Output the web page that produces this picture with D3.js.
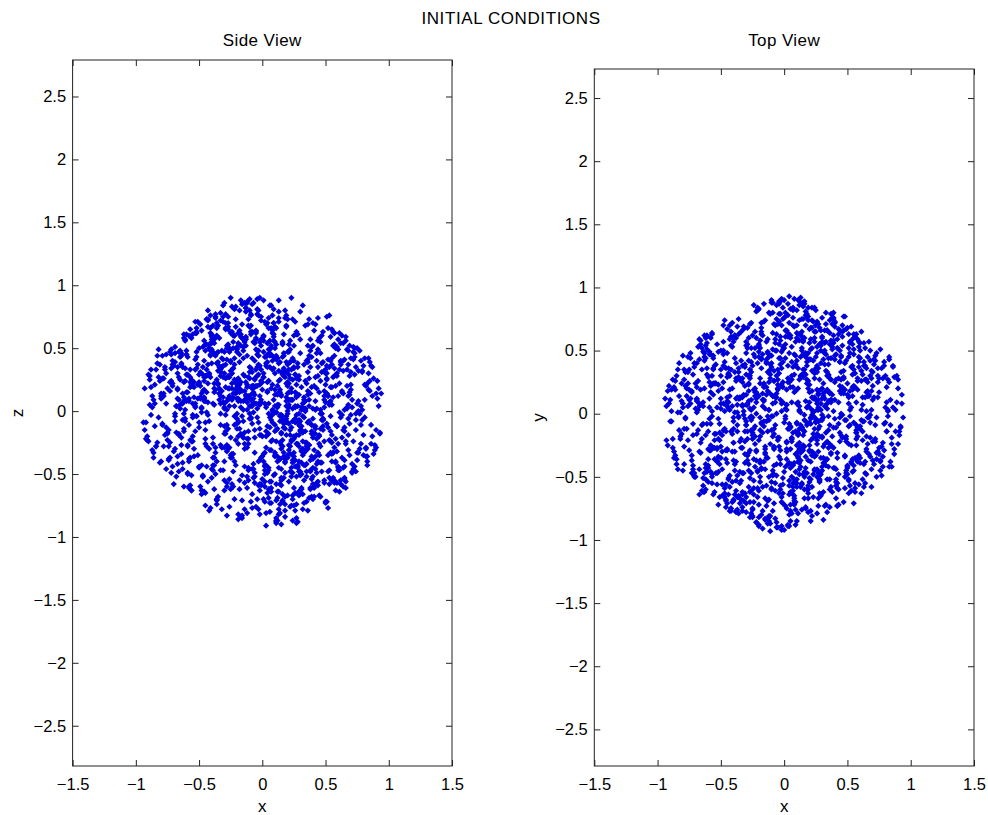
<!DOCTYPE html>
<html><head><meta charset="utf-8">
<script src="https://cdn.jsdelivr.net/npm/d3@7"></script>
<style>
body{margin:0;background:#fff}
svg{display:block}
text{font-family:"Liberation Sans",Arial,Helvetica,sans-serif;fill:#000}
</style>
</head><body>
<svg id="chart" width="988" height="815"></svg>
<script>
// particle positions, in hundredths of a unit (read/estimated from the picture)
const particleX = [
-12,27,3,-31,18,-6,9,-22,33,-17,0,14,-28,22,-3,6,-35,29,-9,11,
25,-19,7,-26,15,-1,31,-14,4,-33,20,-8,12,-24,35,-5,17,-30,2,26,
-16,8,-27,21,-4,34,-11,13,-20,1,28,-34,10,-7,23,-18,5,32,-25,16,
19,-2,30,-13,24,-29,7,-21,15,-10,34,-15,3,27,-32,9,-23,12,-1,21,
-8,31,-18,4,-26,17,-34,25,-6,11,-19,2,29,-12,20,-28,14,-3,33,-22,
6,-24,16,-9,35,-16,1,23,-31,10,-5,26,-20,18,-11,30,-27,8,-14,3,
-29,13,-2,28,-21,5,-33,19,-7,32,-15,24,-26,0,15,-10,22,-35,11,-4,
17,-30,22,-5,9,-23,29,-17,2,-12,26,-28,13,-1,34,-19,7,-8,20,-25,
-3,21,-13,31,-27,12,-6,16,-32,24,-9,4,-22,30,-16,10,-2,27,-29,14,
33,-11,5,-20,18,-35,23,-4,11,-26,1,19,-14,8,-30,25,-7,15,-18,29,
-21,10,-30,14,-1,26,-17,32,-9,6,-25,20,-4,34,-13,3,-28,18,-6,23,
7,-27,19,-15,30,-8,12,-34,25,-2,16,-22,28,-11,4,-31,21,-18,13,-5,
-14,24,-6,35,-24,9,-19,2,27,-29,15,-10,31,-3,19,-23,6,-33,26,0,
12,-4,28,-19,3,-32,17,-13,22,-7,33,-20,8,-27,14,-1,30,-15,5,-25,
-26,15,-10,23,-33,7,-2,29,-18,13,-30,1,20,-12,27,-6,11,-21,35,-8,
4,-18,25,-3,14,-22,31,-9,6,-28,21,-14,2,29,-34,16,-5,24,-11,9,
-9,32,-23,11,-5,18,-29,27,-12,3,23,-32,15,-20,8,-26,34,-2,17,-16,
28,-7,13,-25,21,-1,10,-31,18,-17,5,30,-24,12,-8,22,-13,1,-33,19,
-5,20,-32,16,-12,33,-20,5,-27,26,-3,11,-18,24,-30,7,19,-10,28,-15,
15,-28,2,-10,27,-14,22,-6,34,-23,9,-35,17,-4,25,-17,1,31,-20,10,
-18,6,-22,30,-8,16,-26,12,-1,21,-31,27,-7,14,-19,33,-12,4,-24,8,
23,-13,34,-4,11,-30,4,20,-15,29,-22,7,-29,19,-2,13,-25,26,-9,32,
-1,17,-16,8,-28,25,-11,35,-21,2,14,-7,24,-33,10,-20,28,-3,18,-12,
10,-33,21,-23,5,-9,29,-24,13,-16,31,-2,9,-19,26,-27,3,16,-29,22,
-42,51,-38,47,-53,40,-45,55,-49,37,44,-50,39,-36,52,-47,43,-41,48,-54,
46,-39,53,-44,38,-51,41,-37,50,-46,36,54,-43,49,-40,45,-52,42,-48,37,
-50,43,-36,55,-47,39,-53,46,-41,51,-38,44,-55,40,-45,48,-39,52,-43,36,
41,-48,50,-40,45,-54,37,-44,53,-37,47,-42,38,-51,43,-36,55,-46,40,-49,
-37,54,-46,42,-52,38,-41,49,-55,44,-48,36,-44,53,-39,47,-50,39,-42,51,
52,-43,40,-49,36,-45,55,-38,43,-53,39,-47,51,-41,46,-52,38,-37,54,-44,
-45,38,-51,53,-39,47,-43,41,-48,36,-54,50,-40,45,-36,42,-47,55,-38,48,
39,-52,44,-36,49,-42,52,-50,37,-45,42,-39,55,-48,40,-53,46,-44,37,-40,
-53,45,-40,38,-44,51,-37,54,-42,48,-50,41,-46,37,-55,43,-41,50,-36,47,
44,-36,48,-55,41,-38,46,-52,39,-43,53,-46,36,-49,42,-40,49,-45,51,-39,
-58,63,-66,57,-61,69,-64,60,-56,67,-70,59,-62,65,-57,68,-63,56,-68,61,
64,-59,70,-65,58,-60,66,-57,62,-69,56,-67,61,-58,69,-62,59,-64,67,-56,
-61,57,-69,62,-56,66,-60,64,-67,58,-63,70,-59,68,-65,56,-62,63,-57,65,
60,-66,56,-58,68,-63,59,-70,65,-61,57,-64,69,-56,62,-68,58,-60,64,-67,
-64,68,-57,61,-69,59,-62,57,-66,63,-58,66,-61,60,-67,64,-56,69,-60,58,
67,-62,58,-68,63,-57,70,-65,56,-59,66,-61,60,-66,57,-63,65,-58,62,-69,
-73,78,-80,72,-76,81,-71,75,-79,74,-82,77,-74,71,-77,80,-72,76,-78,73,
79,-75,71,-81,74,-72,82,-78,76,-73,72,-80,78,-76,73,-79,81,-71,75,-77,
-76,72,-78,80,-73,74,-81,77,-71,79,-75,73,-80,71,-72,82,-79,75,-74,78,
-85,88,-91,84,-87,92,-83,86,-94,90,-89,83,-86,93,-84,87,-92,85,-88,89,
91,-84,85,-90,94,-86,83,-93,87,-85,90,-83,84,-88,86,-91,92,-87,83,-89,
5,-14,26,-30,11,19,-7,-23,32,0,-18,13,24,-35,8,-2,30,-11,-26,17,
-9,22,2,-16,34,-28,15,6,-20,27,-4,-33,10,18,-13,29,-6,3,-25,12,
31,-1,-22,14,-8,25,-31,20,7,-15,35,-10,-27,4,21,-19,9,-34,16,-3,
-24,18,10,-5,28,-12,1,-29,23,13,-21,6,33,-17,-2,26,-30,11,-8,20,
14,-26,32,8,-11,-19,24,-3,16,-33,2,27,-14,21,-7,-22,12,35,-16,5,
-31,7,-12,23,17,-4,-25,30,-9,19,11,-28,-1,15,34,-20,3,-13,28,-6,
9,33,-18,-2,22,-27,14,5,-34,25,-10,18,29,-23,6,12,-15,-32,1,24,
-19,4,27,-8,-30,16,-5,21,11,-13,31,-24,8,2,-29,19,26,-3,-11,34,
22,-16,0,35,-21,10,28,-12,-26,6,-2,23,-32,15,9,-18,-7,30,17,-28,
-4,29,-33,12,3,-9,20,25,-17,-30,14,1,-23,32,-14,7,21,-26,10,-1,
27,-21,15,-6,33,4,-15,-35,19,8,-27,29,13,-8,24,-31,0,16,-19,11,
-13,10,-28,26,-3,21,7,-18,34,17,-6,-25,5,30,-20,-11,25,2,32,-24,
18,-33,6,20,-24,-7,31,13,-10,-22,24,9,-30,-3,16,28,-17,-9,4,35,
-35,12,24,-14,8,30,-20,1,26,-29,-5,15,20,-12,31,-8,5,22,-33,13,
3,-23,19,29,-17,11,-1,-31,14,23,-12,-20,33,7,-26,17,-4,-15,27,-9,
26,16,-10,-25,4,-34,22,9,-6,32,-16,12,-22,27,1,-27,18,6,-13,-21,
47,-38,52,-45,40,-53,36,49,-42,55,-37,44,-50,41,-46,38,53,-40,45,-51,
-44,50,-36,39,-55,46,-48,37,54,-41,43,-39,48,-52,36,-47,51,-43,42,40,
38,-53,45,-37,51,-40,55,-46,41,-49,47,36,-44,52,-38,43,-55,49,-41,37,
-51,42,-47,54,-39,36,-43,50,-36,46,-52,39,44,-45,53,-37,40,-48,55,-42,
43,-46,37,-50,48,-36,41,-54,52,-38,39,-43,46,-40,49,-55,38,45,-47,51,
-40,55,-49,44,-42,52,-38,47,-53,40,-45,54,-37,42,-50,48,-36,51,-44,39,
54,-41,46,-52,37,-47,50,-39,44,-54,36,-48,53,-43,40,-46,42,-38,49,-45,
59,-65,62,-57,68,-61,56,-69,64,-58,70,-63,60,-66,57,-59,67,-62,65,-56,
-67,58,-60,66,-56,63,-64,69,-59,61,-68,57,-62,64,-70,60,-57,65,-61,68,
62,-56,69,-63,59,-67,65,-60,57,-64,61,-58,66,-69,63,-62,58,-65,70,-59,
-60,64,-58,57,-66,67,-61,60,-63,56,-57,62,-69,68,-59,65,-64,59,-67,61,
77,-72,81,-79,73,-75,80,-71,74,-82,76,-74,71,-78,82,-73,79,-81,72,-76,
-80,75,-73,72,-77,79,-76,82,-71,78,-74,73,-82,76,-72,81,-75,71,-79,74,
86,-88,84,-92,90,-85,93,-83,87,-90,89,-86,85,-84,91,-89,83,-87,88,-93
];
const particleY = [
45,-12,78,-63,5,30,-88,17,-41,62,-7,-55,24,84,-29,9,-71,50,-2,36,
-33,58,-15,72,-48,21,-3,40,-80,13,67,-26,3,-59,31,-90,48,-9,19,-44,
10,-69,35,-21,87,-52,16,-37,55,-4,-18,27,70,-61,1,43,-28,12,-76,60,
-57,22,-1,49,-34,8,82,-46,29,-13,66,-83,38,-6,15,57,-24,74,-51,4,
26,-39,63,-8,11,-74,42,-19,86,-30,52,7,-65,33,-54,18,-11,61,-36,0,
-20,47,-60,14,-27,73,-42,2,37,-85,20,-16,53,-47,79,-5,28,-67,41,-12,
68,-31,8,-53,40,-10,25,-78,59,6,-44,34,-2,76,-25,46,-58,13,-17,89,
-6,54,-81,23,-14,65,-35,47,-22,80,-50,10,29,-71,4,-39,84,-27,56,-3,
39,-8,18,-62,71,-23,50,-1,-47,32,14,-89,60,-19,24,-55,36,5,-33,75,
-72,28,-43,83,-9,12,-66,44,-15,3,77,-37,21,-52,57,-4,9,-29,68,-48,
15,-58,31,-11,53,-79,6,-24,88,-40,38,-7,-63,19,-2,64,-45,27,-86,42,
-41,4,74,-32,20,-16,58,-68,11,49,-26,81,-54,35,-12,22,-77,44,1,-21,
57,-45,13,-2,-70,38,-18,66,-30,7,85,-59,16,-36,48,-10,30,-64,8,52,
-28,79,-52,24,-40,2,46,-87,18,-9,34,-21,69,-3,-56,41,12,-31,60,-15,
33,-17,90,-48,6,-61,23,-5,72,-42,15,55,-25,47,-73,0,-38,82,-13,26,
-64,36,-7,11,58,-29,-84,51,-19,30,-3,43,-75,8,65,-46,19,-12,39,-55,
8,-73,45,-35,27,76,-14,3,-50,61,-31,-1,35,-82,17,52,-22,70,-43,11,
-49,14,-26,62,-85,25,-8,39,-60,16,83,-18,5,-44,71,-33,48,-2,28,-67,
20,-51,67,-14,3,-37,54,-72,30,-24,44,9,-80,57,-6,21,-63,40,-10,74,
-13,42,-30,88,-47,15,-1,63,-36,52,-70,27,10,-19,36,-58,80,-26,49,-7,
65,-22,9,-45,34,-67,41,-12,75,-4,-32,18,50,-76,28,-15,3,-53,86,-39,
-2,59,-78,32,-16,48,-57,23,4,-64,12,70,-37,6,-89,45,-20,33,-48,17,
51,-34,21,-71,60,-6,31,-42,84,-28,-11,56,-3,38,-52,14,68,-40,24,-81,
-25,7,43,-18,-77,64,-46,19,-9,87,-35,2,46,-13,73,-62,25,-5,55,-30,
35,-52,12,66,-28,-4,48,-71,20,58,-15,30,-43,75,-9,41,-60,6,-33,24,
-19,62,-38,9,53,-66,27,1,-48,36,-74,14,59,-22,-6,45,18,-55,70,-31,
50,-8,29,-45,74,-27,5,61,-16,-63,40,22,-36,11,67,-50,33,-2,-77,17,
-44,25,68,-12,0,39,-58,31,-25,7,-70,54,15,-40,28,63,-7,-29,46,-65,
13,-36,-69,52,23,-18,72,-47,38,-3,57,-24,4,-61,44,16,-35,76,-14,8,
-57,3,43,-30,64,10,-41,26,-72,55,-11,37,-53,20,-1,49,-26,69,-46,32,
6,71,-21,37,-64,28,14,-54,47,-9,24,-42,60,-17,33,-73,2,51,-38,19,
62,-46,18,-2,42,-75,56,8,-32,29,-59,1,35,-13,73,-37,21,-51,11,-23,
-27,16,57,-62,31,-10,-49,21,65,-34,4,47,-68,27,-16,9,53,-43,36,77,
41,-66,-5,24,-52,60,18,-20,2,70,-39,-14,28,-56,52,-3,-45,13,63,-30,
22,-40,55,-9,31,-58,6,44,-27,15,-50,37,60,-18,2,-34,48,-62,26,-5,
-47,12,-22,52,-38,29,-3,63,-14,40,-55,8,34,-29,18,-60,45,-8,57,24,
36,-25,1,-52,46,14,-43,27,59,-11,20,-37,5,50,-61,32,-17,41,-2,-48,
-12,58,-35,17,-1,42,-56,24,-30,62,-20,9,-44,36,-6,53,28,-41,13,-64,
49,-7,30,-63,21,-33,54,-15,7,38,-46,-24,61,-10,43,-55,15,3,-36,26,
-32,44,-18,3,56,-48,11,35,-59,-4,25,51,-39,19,-13,62,-28,47,-21,10,
18,-34,5,42,-21,9,-47,28,-12,36,1,-26,48,-40,14,-7,31,-45,22,-3,
-29,11,39,-16,25,-44,2,33,-38,17,-9,46,-23,6,-50,27,-14,40,-32,20,
45,-20,-4,30,-37,13,24,-49,37,-8,19,-31,8,43,-17,-2,35,-27,12,-42,
30,-14,8,-38,21,-10,40,5,12,-24,-6,25,-33,15,1,-28,18,-19,27,9,
-17,35,-24,11,-3,19,-42,6,29,-36,20,14,-9,-27,37,22,-11,-30,43,2,
62,-35,48,-71,20,84,-55,14,39,-92,-8,30,-44,-22,91,-66,57,-81,-5,70,
-77,52,7,-38,66,23,88,-50,-61,15,-26,-74,42,79,33,54,-90,28,-17,-48,
24,-56,-86,61,-12,45,-39,-29,76,-67,10,37,-51,93,68,-3,-46,-20,35,58,
-64,41,82,-19,55,-85,4,-33,73,-58,-45,27,80,11,-70,38,-9,63,-41,17,
50,-79,66,31,-24,-54,13,89,87,-47,-36,71,-6,59,-83,-30,2,44,22,-62,
-22,37,-68,12,78,55,-81,60,-49,26,-16,-58,9,47,30,-72,-88,-35,-63,75,
18,57,-43,-92,34,-70,65,-11,-27,82,-60,5,40,20,53,-39,-84,69,-73,28,
-50,72,16,-28,-78,46,35,-52,90,-14,49,-36,-65,3,52,77,-21,-57,-87,8,
74,-6,-46,39,-59,64,27,-82,-13,41,91,-19,-69,58,-32,-44,13,61,-75,-40,
-34,19,-62,86,-89,-18,43,70,-91,7,31,66,17,56,-73,-55,-38,-47,8,84,
36,-66,75,-49,71,25,-28,-55,-60,47,-82,3,88,-71,60,-14,90,32,-37,-79,
-83,60,-31,19,79,51,-64,-7,33,81,-40,-75,21,-42,45,-93,65,-23,50,-12,
44,-27,-79,9,-53,70,14,63,-2,-86,84,39,-66,-60,-50,55,-15,80,48,30,
-46,27,65,-57,-72,76,-89,44,3,-20,71,57,-30,-5,43,-48,-85,13,-77,92,
87,-42,20,66,-77,-34,-63,-4,52,-16,25,-88,47,-58,-61,31,73,-26,11,-45,
53,89,-54,-82,-39,-53,68,-76,16,48,-10,6,-37,-67,61,-29,38,-20,-69,82,
34,-61,18,-29,72,-47,55,-20,-75,63,-9,41,12,-57,-36,79,5,-68,27,-15,
-52,24,-79,58,-21,65,8,44,31,-70,-48,-40,77,-4,16,-63,52,19,-31,69,
76,-38,46,-66,13,-23,60,-56,-11,-44,29,-60,36,48,-78,67,-27,-5,-54,11,
-8,59,-59,38,-45,74,30,15,-65,54,-34,80,-22,-71,69,-14,-43,50,22,-77,
63,-74,9,-26,40,-3,-67,-47,57,28,75,-58,20,-37,-18,-62,51,33,-12,45,
-69,47,-17,66,61,3,-53,28,-56,72,-28,55,-76,-35,35,-59,12,-24,-64,56,
19,-30,70,-72,79,-66,-41,62,50,-16,-52,38,58,-49,25,7,-73,-77,67,-39,
41,-20,7,-55,30,-46,61,12,-38,-8,22,-62,50,-31,-15,47,-3,-52,17,35,
-44,59,-28,18,44,-6,-57,34,25,65,-13,9,-40,52,4,-35,-50,27,56,-19,
13,-64,28,45,57,-30,36,-14,63,-51,3,-25,45,11,-58,-43,19,-9,33,49,
-54,38,60,-36,-23,14,-8,56,-47,21,64,31,-16,42,-29,2,-62,53,6,26,
36,-8,21,-40,48,-29,5,-50,30,-18,-37,44,13,-3,27,-47,41,10,-22,33,
-45,17,-33,46,-12,38,24,3,-49,28,8,-36,-20,51,-41,-14,35,43,-26,-30,
38,-20,11,-25,27,-40,8,-13,-32,-6,30,26,-42,-44,-14,19,45,-35,3,-21
];
const particleZ = [
-22,61,3,-47,80,-15,34,-70,9,52,-36,17,-83,26,44,-5,68,-28,13,-58,
40,-8,-64,27,12,75,-31,55,-19,-2,37,-77,20,63,-42,6,-13,86,-50,29,
-71,33,18,-56,48,2,-26,79,-10,60,-45,14,-35,7,90,-62,24,-17,39,-4,
11,-82,46,23,-39,66,-7,14,-53,31,0,57,-20,-74,35,9,-48,42,72,-27,
-46,19,-14,70,4,-33,58,-61,25,-85,8,43,-9,21,-67,50,15,-40,2,81,
56,-37,29,-6,-52,16,88,-23,41,-11,64,-44,10,-79,27,-16,53,1,-30,36,
-3,74,-58,38,17,-69,6,31,-42,84,-21,-8,49,-54,13,67,-34,22,-87,45,
28,-18,9,-76,59,34,-48,3,71,-29,15,-60,38,7,-25,54,-73,19,-2,62,
-59,47,82,-12,-30,5,40,-66,16,-49,77,23,-4,57,-83,30,-19,11,65,-38,
7,-55,24,50,-74,39,-13,28,-89,12,-34,68,-57,44,3,-20,86,-46,18,-7,
73,13,-40,-25,33,-9,61,-78,4,46,-62,20,35,-16,58,-43,1,27,-52,15,
-31,67,-19,8,-63,85,-36,18,52,-14,-72,4,26,-47,39,75,-10,-55,32,49,
16,-41,54,-72,22,-1,10,-33,63,37,-18,89,-50,29,-6,-60,44,12,-79,23,
-64,2,35,62,-16,48,-53,79,-28,10,-43,15,-3,70,-38,24,-66,51,6,-21,
50,-27,-6,18,78,-56,21,-11,45,-82,30,59,-37,1,14,-49,66,-23,40,-10,
-12,39,-75,44,-4,25,-61,9,84,-32,53,-17,6,-64,35,-28,20,73,-45,0,
34,-66,14,-1,57,-40,26,-85,11,69,-24,42,-59,19,-9,47,-32,5,61,-51,
-43,20,71,-35,3,-19,50,36,-68,23,-2,-48,83,-14,31,-76,12,56,-27,8,
63,-9,-29,53,-61,11,-2,74,27,-39,6,-71,17,42,-55,18,-4,35,-88,29,
-17,52,-44,4,26,-78,39,-21,0,60,-51,32,-13,81,-36,8,47,-62,21,-33,
24,-73,60,-15,42,30,-54,13,-37,5,71,-26,55,-3,-20,37,-81,16,9,64,
-52,10,1,77,-24,-63,15,47,-8,28,-40,52,-18,67,12,-45,32,-6,76,-35,
9,44,-85,21,-11,35,68,-30,17,-56,25,-1,-70,33,55,-14,4,80,-41,19,
67,-47,22,-34,49,-5,13,-58,88,-19,3,-39,61,26,-65,10,-29,43,-16,56,
-30,14,58,-41,3,70,-22,37,-60,9,49,-13,-68,25,41,-52,18,66,-7,-36,
55,-26,5,73,-47,21,-12,44,30,-64,16,40,-3,-57,61,-19,34,1,-43,26,
-9,46,-71,19,35,-54,62,-2,27,13,-37,74,-24,52,-15,-6,68,-48,22,39,
20,-63,33,49,-20,11,4,-44,76,-29,38,-8,57,-35,2,-70,42,17,-58,10,
-50,8,27,-14,66,-39,45,12,-5,56,-66,31,-28,7,-43,60,23,-11,50,-72,
12,72,-45,31,-9,53,-25,-62,40,6,19,-51,36,-77,46,-4,14,-33,59,28,
-65,35,10,-23,47,-7,-56,64,2,41,-30,21,-46,15,70,-18,51,-40,5,-12,
43,-4,-59,60,16,29,-35,22,-69,48,8,-21,65,-1,-52,33,-14,73,-27,54,
-16,58,38,-48,-1,75,17,-33,53,-6,29,-61,11,44,20,-42,62,7,-74,31,
28,-40,63,6,-31,15,-68,47,-18,37,-53,24,-9,69,-36,55,3,-26,14,-47,
-38,16,47,-55,9,28,-21,-44,58,3,36,-12,-60,41,23,-31,7,52,-17,62,
14,-49,31,2,-63,45,-26,19,54,-8,27,-42,-1,60,-35,11,-57,38,20,-24,
-6,53,-30,40,25,-61,8,-15,35,50,-46,21,-28,12,43,-53,61,-3,33,-39,
57,-19,11,-40,48,6,30,-58,-13,24,62,-34,15,-51,39,4,-22,29,-45,18,
-27,37,-59,22,-4,51,-16,44,27,-37,10,56,-8,-47,17,32,-63,13,48,-11,
33,-2,20,-52,60,-23,42,5,-33,15,-56,34,49,-18,28,-41,1,-60,37,46,
-25,40,12,-46,30,-5,20,-33,44,-15,27,48,-38,3,-19,36,-49,8,-28,46,
32,-18,-42,24,-7,49,-30,14,0,-37,41,10,-26,45,29,-11,21,-44,6,35,
-13,47,26,-35,16,-48,37,-2,22,31,-23,43,-40,9,34,-29,-10,50,-39,4,
-12,26,-20,17,-31,4,-25,36,-9,14,28,-40,9,-18,33,12,-22,24,-3,-27,
10,-28,39,-24,14,-33,22,-15,-20,6,-29,38,30,19,-11,-23,18,3,-36,25,
-45,28,71,-12,-88,39,6,55,-30,17,80,-64,2,47,-23,90,-51,12,-76,34,
63,-19,-43,85,8,-57,31,-80,49,21,-5,72,-36,-14,59,-67,26,-91,40,3,
-15,52,37,-74,18,-33,84,0,-61,42,-28,10,65,-49,29,-82,56,14,-7,76,
30,-84,4,58,-26,44,-70,19,9,-39,67,-13,-55,88,36,-20,47,-1,-66,23,
-58,11,-24,40,73,-86,25,-9,54,31,-47,-3,86,-31,15,60,-40,22,69,-18,
7,66,-52,33,-10,20,-37,79,-72,4,44,-27,57,-90,24,-6,38,82,-44,13,
81,-33,15,-63,49,28,-8,-47,36,60,-2,74,-19,11,-56,42,1,-78,27,-35,
-26,45,-89,20,6,-71,62,33,-15,52,-41,18,0,-60,77,-9,29,48,-22,68,
39,-4,57,-48,23,-16,-65,87,10,-31,55,-75,35,-3,70,21,-53,-12,46,8,
-70,25,-11,14,43,68,-35,-22,59,2,-81,30,50,-17,-44,84,9,-29,17,-59,
12,83,-30,-57,-5,35,48,-68,22,76,-14,-40,5,63,-87,27,-20,55,-9,41,
57,-50,41,3,-78,15,-24,64,-43,32,19,90,-62,-8,51,-16,34,-72,6,-34,
-38,16,-62,73,30,-46,1,24,80,-11,-67,43,-29,37,-8,61,-84,19,54,-25,
21,-69,9,-26,62,-12,47,-40,-6,70,33,-55,14,86,-32,4,66,-48,28,-78,
-81,34,76,-2,-18,53,-58,11,39,-45,7,25,-73,50,18,-36,89,-21,-52,61,
4,-23,26,49,-65,9,-15,70,-33,-4,58,-87,42,-19,27,75,-49,35,13,-43,
-48,22,66,-9,-70,41,13,-55,30,5,77,-33,50,-18,8,-62,35,59,-26,71,
15,-73,38,51,-3,-41,64,-27,19,76,-57,6,-15,43,-79,29,-10,67,-46,2,
-61,4,-35,74,26,57,-19,40,-68,11,-2,52,33,-77,18,-49,61,-24,44,-8,
37,69,-52,-16,55,-30,7,-72,46,24,63,-11,-40,28,-58,75,-6,14,-34,50,
-22,10,73,-44,-7,66,-60,23,-13,54,-36,80,1,-53,32,-20,48,-67,16,30,
60,-55,20,35,-79,12,45,-2,71,-38,8,-24,58,-12,-45,39,-70,25,53,-16,
-4,48,-28,62,14,-64,31,-37,-56,19,69,3,-47,73,-21,56,27,-43,9,-75,
-12,48,-58,27,5,56,-33,-2,40,-61,17,35,-45,9,62,-27,49,-14,-53,21,
30,-40,15,59,-63,-21,44,-10,-50,33,4,-57,23,54,-32,12,65,-44,1,-6,
-55,20,52,-7,28,-36,-16,61,-29,46,-64,8,-24,39,15,58,-41,25,-3,43,
45,-60,-11,34,-48,2,57,-26,14,63,-37,-5,51,-19,29,-54,37,-32,10,-47,
-30,45,9,26,-44,18,-19,37,-2,49,32,-15,-48,12,-36,23,-7,-41,51,6,
14,-39,47,-24,33,1,-46,20,40,-11,-28,50,-5,-33,24,42,-17,-49,11,35,
-26,33,42,-9,-15,21,-17,44,35,29,-31,-37,16,-28,24,5,-43,12,-34,18
];
const xTickValues = [-1.5, -1, -0.5, 0, 0.5, 1, 1.5];
const yTickValues = [-2.5, -2, -1.5, -1, -0.5, 0, 0.5, 1, 1.5, 2, 2.5];
const figureTitle = "INITIAL CONDITIONS";
const panelTitles = ["Side View", "Top View"];
const panelXLabels = ["x", "x"];
const panelYLabels = ["z", "y"];

const svg = d3.select("#chart");
const toUnits = v => v / 100;
const fmt = d3.format("~g");
const markerColor = "#0000dc";
const marker = "M0,-3.1L3.1,0L0,3.1L-3.1,0Z";

const layout = [
  {left: 72.6, right: 452, top: 60, bottom: 766, yDomain: [-2.82, 2.79], vert: particleZ},
  {left: 594.3, right: 974, top: 69, bottom: 766, yDomain: [-2.79, 2.73], vert: particleY}
];

svg.append("text").attr("x", 511).attr("y", 24).attr("text-anchor", "middle")
  .style("font-size", "17px").style("letter-spacing", "0.6px").text(figureTitle);

layout.forEach((p, i) => {
  const x = d3.scaleLinear().domain([-1.5, 1.5]).range([p.left, p.right]);
  const y = d3.scaleLinear().domain(p.yDomain).range([p.bottom, p.top]);
  const g = svg.append("g");

  const n = Math.min(particleX.length, p.vert.length);
  g.append("g").selectAll("path").data(d3.range(n)).join("path")
    .attr("d", marker)
    .attr("transform", k => `translate(${x(toUnits(particleX[k]))},${y(toUnits(p.vert[k]))})`)
    .attr("fill", markerColor);

  const axB = d3.axisBottom(x).tickValues(xTickValues).tickFormat(fmt).tickSize(-6).tickPadding(12.5);
  const axT = d3.axisTop(x).tickValues(xTickValues).tickFormat("").tickSize(-6);
  const axL = d3.axisLeft(y).tickValues(yTickValues).tickFormat(fmt).tickSize(-6).tickPadding(6.5);
  const axR = d3.axisRight(y).tickValues(yTickValues).tickFormat("").tickSize(-6);
  [[axB, `translate(0,${p.bottom})`], [axT, `translate(0,${p.top})`],
   [axL, `translate(${p.left},0)`], [axR, `translate(${p.right},0)`]].forEach(([ax, tr]) => {
    const a = g.append("g").attr("transform", tr).call(ax);
    a.select(".domain").remove();
    a.selectAll("line").attr("stroke", "#222");
    a.selectAll("text").style("font-size", "16.5px").attr("fill", "#000")
      .style("font-family", '"Liberation Sans",Arial,sans-serif');
  });
  g.append("rect").attr("x", p.left).attr("y", p.top)
    .attr("width", p.right - p.left).attr("height", p.bottom - p.top)
    .attr("fill", "none").attr("stroke", "#222").attr("stroke-width", 1);

  const cx = (p.left + p.right) / 2;
  g.append("text").attr("x", cx).attr("y", 46).attr("text-anchor", "middle")
    .style("font-size", "17px").style("letter-spacing", "0.4px").text(panelTitles[i]);
  g.append("text").attr("x", cx).attr("y", 812).attr("text-anchor", "middle")
    .style("font-size", "17px").text(panelXLabels[i]);
  g.append("text").attr("transform", `translate(${p.left - 50},${(p.top + p.bottom) / 2}) rotate(-90)`)
    .attr("text-anchor", "middle").style("font-size", "17px").text(panelYLabels[i]);
});
</script>
</body></html>
